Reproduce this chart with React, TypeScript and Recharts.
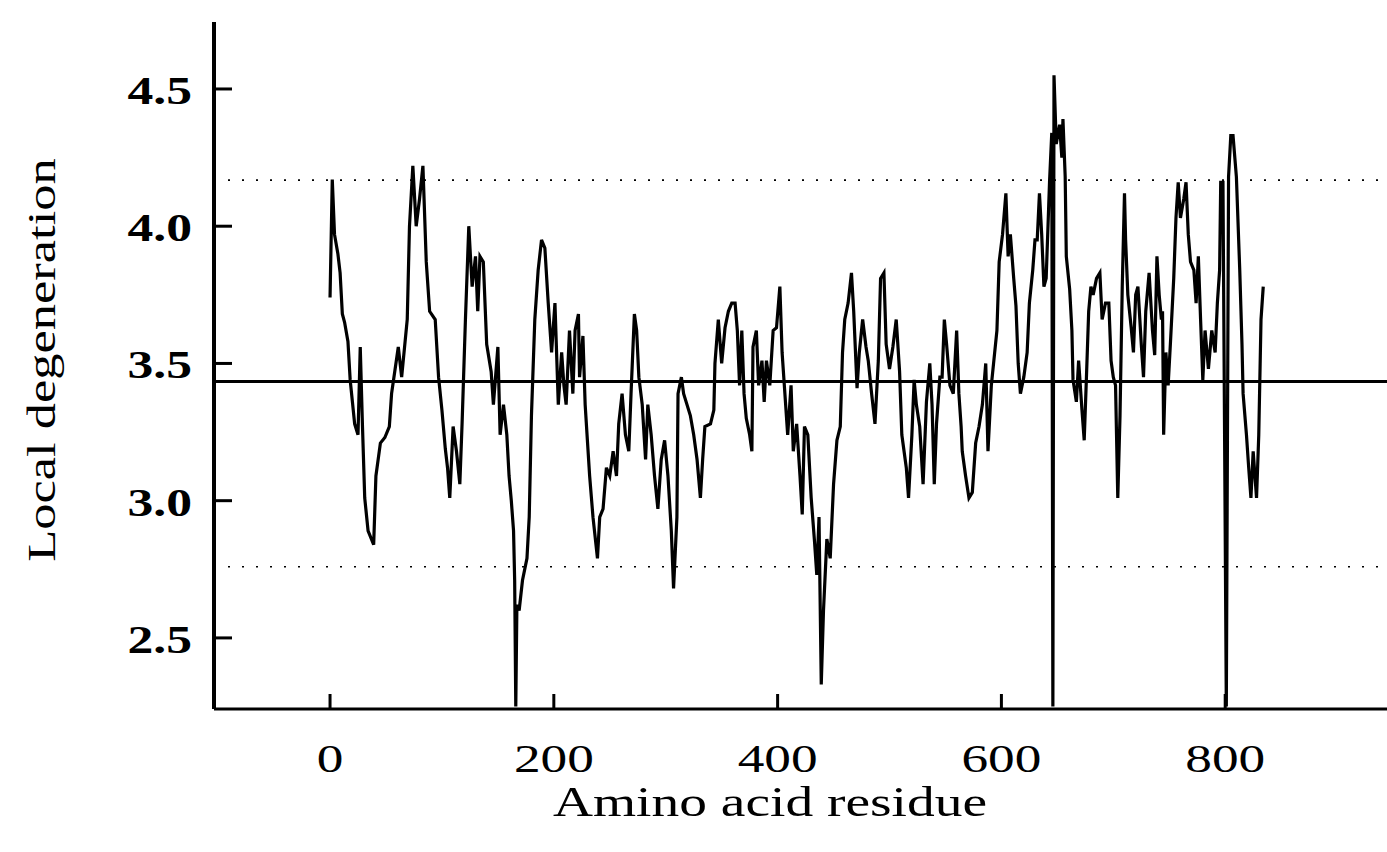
import React from "react";
import { LineChart, Line, XAxis, YAxis, ReferenceLine } from "recharts";

// residue positions and local degeneration values
const residues = [
  0, 2, 4, 7, 9, 11, 13, 16, 18, 20, 22, 25, 27, 29, 31, 34, 39, 41, 45, 49,
  53, 55, 61, 64, 69, 71, 74, 77, 80, 83, 86, 89, 94, 97, 100,
  103, 105, 107, 110, 113, 116, 118, 121, 124, 127, 130, 132, 134, 137, 140,
  144, 146, 150, 152, 155, 158, 160, 162, 164, 165, 166, 167, 169, 172, 176,
  178, 180, 183, 186, 189, 192, 195, 198, 201, 204, 207,
  209, 211, 214, 217, 219, 222, 223, 226, 228, 230, 232, 235, 239, 241, 244,
  247, 250, 253, 256, 258, 261, 264, 267, 269, 272, 274, 276, 279, 282, 284,
  287, 290, 293, 296, 299, 302, 305, 307, 310, 311, 314,
  316, 319, 322, 325, 328, 331, 333, 335, 340, 343, 344, 347, 350, 353, 356,
  359, 362, 364, 366, 368, 370, 372, 375, 377, 378, 381, 383, 386, 388, 390,
  393, 396, 399, 402, 404, 406, 409, 412, 414, 417, 420, 422, 424,
  427, 430, 433, 435, 437, 439, 441, 444, 447, 450, 453, 456, 458, 460, 463,
  466, 468, 471, 473, 476, 479, 481, 484, 487, 490, 492, 495, 497, 500, 503,
  506, 509, 511, 513, 515, 517, 520, 522, 524, 527,
  530, 533, 536, 538, 540, 542, 545, 547, 549, 551, 554, 557, 560, 562, 564,
  565, 568, 571, 574, 577, 580, 583, 586, 588, 591, 593, 596, 598, 601, 604,
  606, 608, 611, 613, 615, 617, 620, 623, 625, 628, 630, 632, 634, 636, 638,
  640, 643, 645, 646, 647, 649, 652, 654, 655, 657, 658, 661, 663, 664, 667,
  669, 672, 674, 676, 678, 680, 682, 685, 688, 690, 693, 696, 698, 700, 702,
  704, 706, 708, 710, 711, 713, 716, 718, 720, 722, 725, 727, 729, 732, 735,
  737, 739, 741, 743,
  744, 745, 747, 749, 751, 754, 756, 758, 760, 763, 765, 767, 769, 772, 774,
  776, 778, 780, 782, 785, 788, 791, 793, 795, 796, 798, 801, 803, 805, 807,
  810, 813, 815, 816, 819, 821, 823, 825, 828, 830, 832, 834,
];

const degeneration = [
  3.74, 4.17, 3.97, 3.9, 3.83, 3.68, 3.65, 3.58, 3.44, 3.36, 3.28, 3.24, 3.56, 3.27, 3.01, 2.89, 2.84, 3.09, 3.21, 3.23,
  3.27, 3.39, 3.56, 3.45, 3.66, 4.0, 4.22, 4.0, 4.1, 4.22, 3.87, 3.69, 3.66, 3.45, 3.33,
  3.19, 3.12, 3.01, 3.27, 3.18, 3.06, 3.28, 3.66, 4.0, 3.78, 3.89, 3.69, 3.89, 3.87, 3.57,
  3.47, 3.35, 3.56, 3.24, 3.35, 3.24, 3.09, 3.0, 2.89, 2.71, 2.25, 2.62, 2.6, 2.71, 2.79,
  2.94, 3.31, 3.66, 3.84, 3.95, 3.92, 3.72, 3.54, 3.72, 3.35, 3.54,
  3.42, 3.35, 3.62, 3.39, 3.62, 3.68, 3.45, 3.6, 3.35, 3.22, 3.09, 2.94, 2.79, 2.94, 2.97,
  3.12, 3.09, 3.18, 3.09, 3.28, 3.39, 3.24, 3.18, 3.39, 3.68, 3.62, 3.45, 3.35, 3.15, 3.35,
  3.24, 3.09, 2.97, 3.15, 3.22, 3.09, 2.89, 2.68, 2.94, 3.39, 3.45,
  3.39, 3.35, 3.31, 3.24, 3.15, 3.01, 3.15, 3.27, 3.28, 3.33, 3.5, 3.66, 3.5, 3.63, 3.69,
  3.72, 3.72, 3.62, 3.42, 3.62, 3.39, 3.3, 3.24, 3.18, 3.56, 3.62, 3.42, 3.51, 3.36, 3.51,
  3.42, 3.62, 3.63, 3.78, 3.54, 3.42, 3.24, 3.42, 3.18, 3.28, 3.09, 2.95, 3.27,
  3.24, 3.01, 2.85, 2.73, 2.94, 2.33, 2.6, 2.86, 2.79, 3.06, 3.22, 3.27, 3.54, 3.66, 3.72,
  3.83, 3.69, 3.41, 3.54, 3.66, 3.56, 3.51, 3.39, 3.28, 3.51, 3.81, 3.83, 3.57, 3.48, 3.56,
  3.66, 3.47, 3.24, 3.18, 3.12, 3.01, 3.24, 3.44, 3.35, 3.27,
  3.06, 3.36, 3.5, 3.35, 3.06, 3.28, 3.45, 3.45, 3.66, 3.57, 3.42, 3.39, 3.62, 3.39, 3.27,
  3.18, 3.09, 3.01, 3.03, 3.21, 3.27, 3.35, 3.5, 3.18, 3.42, 3.5, 3.62, 3.87, 3.97, 4.12,
  3.89, 3.97, 3.81, 3.71, 3.5, 3.39, 3.45, 3.54, 3.72, 3.84, 3.95, 3.95, 4.12, 3.97, 3.78,
  3.81, 4.16, 4.34, 2.25, 4.55, 4.3, 4.37, 4.25, 4.39, 4.18, 3.89, 3.77, 3.62, 3.44, 3.36,
  3.51, 3.33, 3.22, 3.45, 3.69, 3.78, 3.75, 3.81, 3.83, 3.66, 3.72, 3.72, 3.51, 3.45, 3.42,
  3.01, 3.31, 3.78, 4.12, 3.95, 3.75, 3.63, 3.54, 3.75, 3.78, 3.57, 3.45, 3.69, 3.83, 3.62,
  3.53, 3.89, 3.75, 3.66,
  3.69, 3.24, 3.54, 3.42, 3.57, 3.81, 4.03, 4.16, 4.03, 4.1, 4.16, 3.97, 3.87, 3.84, 3.72,
  3.89, 3.66, 3.44, 3.62, 3.48, 3.62, 3.54, 3.72, 3.84, 4.16, 4.16, 2.25, 4.18, 4.33, 4.33,
  4.18, 3.84, 3.57, 3.39, 3.24, 3.12, 3.01, 3.18, 3.01, 3.24, 3.66, 3.78,
];

const xTicks = [0, 200, 400, 600, 800];
const yTicks = [2.5, 3.0, 3.5, 4.0, 4.5];
const meanLevel = 3.434;
const upperLimit = 4.168;
const lowerLimit = 2.759;

const X_DOMAIN = [-103.7, 944.6];
const Y_DOMAIN = [2.241, 4.744];
// plot box in pixels (chart margin + axis sizes)
const PLOT = { left: 214, right: 1387, top: 22, bottom: 709 };

const data = residues.map((r, i) => ({ residue: r, value: degeneration[i] }));

const FONT = "'Liberation Serif', 'Times New Roman', serif";

// same linear mapping the number axes use, for the inward tick marks
const px = (v: number) =>
  PLOT.left + ((v - X_DOMAIN[0]) / (X_DOMAIN[1] - X_DOMAIN[0])) * (PLOT.right - PLOT.left);
const py = (v: number) =>
  PLOT.bottom - ((v - Y_DOMAIN[0]) / (Y_DOMAIN[1] - Y_DOMAIN[0])) * (PLOT.bottom - PLOT.top);

function XTick({ x, payload }: any) {
  return (
    <text
      transform={`translate(${x},772) scale(1.3,1)`}
      textAnchor="middle"
      fontFamily={FONT}
      fontSize={41}
      fill="#000"
    >
      {payload.value}
    </text>
  );
}

function YTick({ y, payload }: any) {
  return (
    <text
      transform={`translate(192,${y + 15}) scale(1.26,1)`}
      textAnchor="end"
      fontFamily={FONT}
      fontWeight="bold"
      fontSize={41}
      fill="#000"
    >
      {payload.value.toFixed(1)}
    </text>
  );
}

export default function App() {
  return (
    <div style={{ position: "absolute", left: 0, top: 0, width: 1387, height: 852, background: "#fff" }}>
      <LineChart
        width={1387}
        height={852}
        data={data}
        margin={{ top: PLOT.top, right: 0, bottom: 0, left: 0 }}
      >
        <XAxis
          dataKey="residue"
          type="number"
          domain={X_DOMAIN}
          ticks={xTicks}
          height={143}
          axisLine={{ stroke: "#000", strokeWidth: 3 }}
          tickLine={false}
          tick={<XTick />}
          allowDataOverflow
        />
        <YAxis
          type="number"
          domain={Y_DOMAIN}
          ticks={yTicks}
          width={214}
          axisLine={{ stroke: "#000", strokeWidth: 4 }}
          tickLine={false}
          tick={<YTick />}
          allowDataOverflow
        />
        <ReferenceLine y={upperLimit} stroke="#000" strokeWidth={1.6} strokeDasharray="2 12" />
        <ReferenceLine y={lowerLimit} stroke="#000" strokeWidth={1.6} strokeDasharray="2 12" />
        <ReferenceLine y={meanLevel} stroke="#000" strokeWidth={3} />
        <Line
          type="linear"
          dataKey="value"
          stroke="#000"
          strokeWidth={3.2}
          strokeLinejoin="miter"
          dot={false}
          isAnimationActive={false}
        />
        <g className="inward-ticks">
          {xTicks.map((t) => (
            <line key={`x${t}`} x1={px(t)} y1={PLOT.bottom} x2={px(t)} y2={PLOT.bottom - 15} stroke="#000" strokeWidth={3} />
          ))}
          {yTicks.map((t) => (
            <line key={`y${t}`} x1={PLOT.left} y1={py(t)} x2={PLOT.left + 18} y2={py(t)} stroke="#000" strokeWidth={3} />
          ))}
        </g>
        <text
          transform="translate(770,816) scale(1.32,1)"
          textAnchor="middle"
          fontFamily={FONT}
          fontSize={42}
          fill="#000"
        >
          Amino acid residue
        </text>
        <text
          transform="translate(55,360) rotate(-90) scale(1.28,1)"
          textAnchor="middle"
          fontFamily={FONT}
          fontSize={41}
          fill="#000"
        >
          Local degeneration
        </text>
      </LineChart>
    </div>
  );
}
